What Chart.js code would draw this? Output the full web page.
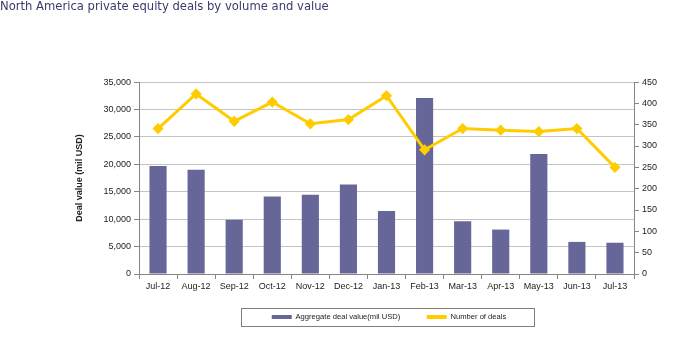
<!DOCTYPE html>
<html>
<head>
<meta charset="utf-8">
<script src="https://cdn.jsdelivr.net/npm/chart.js@4"></script>
<style>
  body { margin: 0; background: #fff; }
  canvas { display: block; }
</style>
</head>
<body>
<canvas id="dealsChart" width="699" height="360"></canvas>
<script>
const months = ["Jul-12", "Aug-12", "Sep-12", "Oct-12", "Nov-12", "Dec-12", "Jan-13",
  "Feb-13", "Mar-13", "Apr-13", "May-13", "Jun-13", "Jul-13"];
const dealValue = [19700, 19000, 9900, 14150, 14450, 16300, 11500, 32100, 9600, 8100, 21900, 5850, 5700];
const dealCount = [341, 422, 358, 403, 352, 362, 418, 291, 341, 337, 334, 341, 250];
const valueTicks = [0, 5000, 10000, 15000, 20000, 25000, 30000, 35000];
const countTicks = [0, 50, 100, 150, 200, 250, 300, 350, 400, 450];

const fontFamily = "'Liberation Sans', Arial, sans-serif";
const axisGray = "#868686";

// pull the legend up under the axis labels and draw the excel style frame round it
const legendFrame = {
  id: "legendFrame",
  afterLayout(chart) {
    const legend = chart.legend;
    legend.top -= 9.3;
    legend.bottom -= 9.3;
    legend.left += 2.5;
    legend.right += 2.5;
  },
  afterDraw(chart) {
    const boxes = chart.legend.legendHitBoxes;
    if (!boxes || !boxes.length) return;
    const last = boxes[boxes.length - 1];
    const left = boxes[0].left - 31;
    const right = last.left + last.width + 28;
    const top = boxes[0].top - 4.9;
    const ctx = chart.ctx;
    ctx.save();
    ctx.strokeStyle = "#7f7f7f";
    ctx.lineWidth = 1;
    ctx.strokeRect(Math.round(left) + 0.5, Math.round(top) + 0.5, Math.round(right - left), 18);
    ctx.restore();
  }
};

const ctx = document.getElementById("dealsChart").getContext("2d");
const dealsChart = new Chart(ctx, {
  type: "bar",
  data: {
    labels: months,
    datasets: [
      {
        type: "bar",
        label: "Aggregate deal value(mil USD)",
        data: dealValue,
        yAxisID: "y",
        backgroundColor: "#666699",
        borderWidth: 0,
        barPercentage: 0.45,
        categoryPercentage: 1,
        order: 2,
      },
      {
        type: "line",
        label: "Number of deals",
        data: dealCount,
        yAxisID: "y1",
        borderColor: "#ffcc00",
        backgroundColor: "#ffcc00",
        borderWidth: 3,
        pointStyle: "rectRot",
        pointRadius: 3.5,
        pointBackgroundColor: "#ffcc00",
        pointBorderColor: "#ffcc00",
        tension: 0,
        order: 1,
      },
    ],
  },
  options: {
    responsive: false,
    animation: false,
    layout: { padding: { left: 0, right: 0, top: 0, bottom: 19.9 } },
    plugins: {
      title: {
        display: true,
        text: "North America private equity deals by volume and value",
        align: "start",
        color: "#383b6c",
        font: { family: "'DejaVu Sans', Verdana, sans-serif", size: 11.6, weight: "normal" },
        padding: { top: 0, bottom: 68.1 },
      },
      legend: {
        position: "bottom",
        fullSize: false,
        labels: {
          boxWidth: 20,
          boxHeight: 4,
          padding: 26.5,
          color: "#222",
          font: { family: fontFamily, size: 7.6 },
          sort: (a, b) => a.datasetIndex - b.datasetIndex,
          generateLabels: (chart) =>
            Chart.defaults.plugins.legend.labels.generateLabels(chart).map((item) => ({
              ...item,
              lineWidth: 0,
            })),
        },
      },
      tooltip: { enabled: false },
    },
    scales: {
      x: {
        grid: {
          offset: true,
          drawOnChartArea: false,
          tickLength: 5,
          tickColor: axisGray,
        },
        border: { color: axisGray },
        ticks: {
          color: "#222",
          font: { family: fontFamily, size: 9 },
          padding: 2,
          maxRotation: 0,
        },
        afterFit: (scale) => { scale.height = 22; },
      },
      y: {
        position: "left",
        min: 0,
        max: 35000,
        afterBuildTicks: (scale) => { scale.ticks = valueTicks.map((v) => ({ value: v })); },
        grid: { color: "#c4c4c4", tickColor: axisGray, tickLength: 5 },
        border: { color: axisGray },
        ticks: {
          color: "#222",
          font: { family: fontFamily, size: 9 },
          padding: 3,
          callback: (v) => v.toLocaleString("en-US"),
        },
        title: {
          display: true,
          text: "Deal value (mil USD)",
          color: "#222",
          font: { family: fontFamily, size: 9, weight: "bold" },
          padding: { top: 74, bottom: 0 },
        },
        afterFit: (scale) => { scale.width = 139; },
      },
      y1: {
        position: "right",
        min: 0,
        max: 450,
        afterBuildTicks: (scale) => { scale.ticks = countTicks.map((v) => ({ value: v })); },
        grid: { drawOnChartArea: false, tickColor: axisGray, tickLength: 5 },
        border: { color: axisGray },
        ticks: {
          color: "#222",
          font: { family: fontFamily, size: 9 },
          padding: 3,
        },
        afterFit: (scale) => { scale.width = 65; },
      },
    },
  },
  plugins: [legendFrame],
});
</script>
</body>
</html>
